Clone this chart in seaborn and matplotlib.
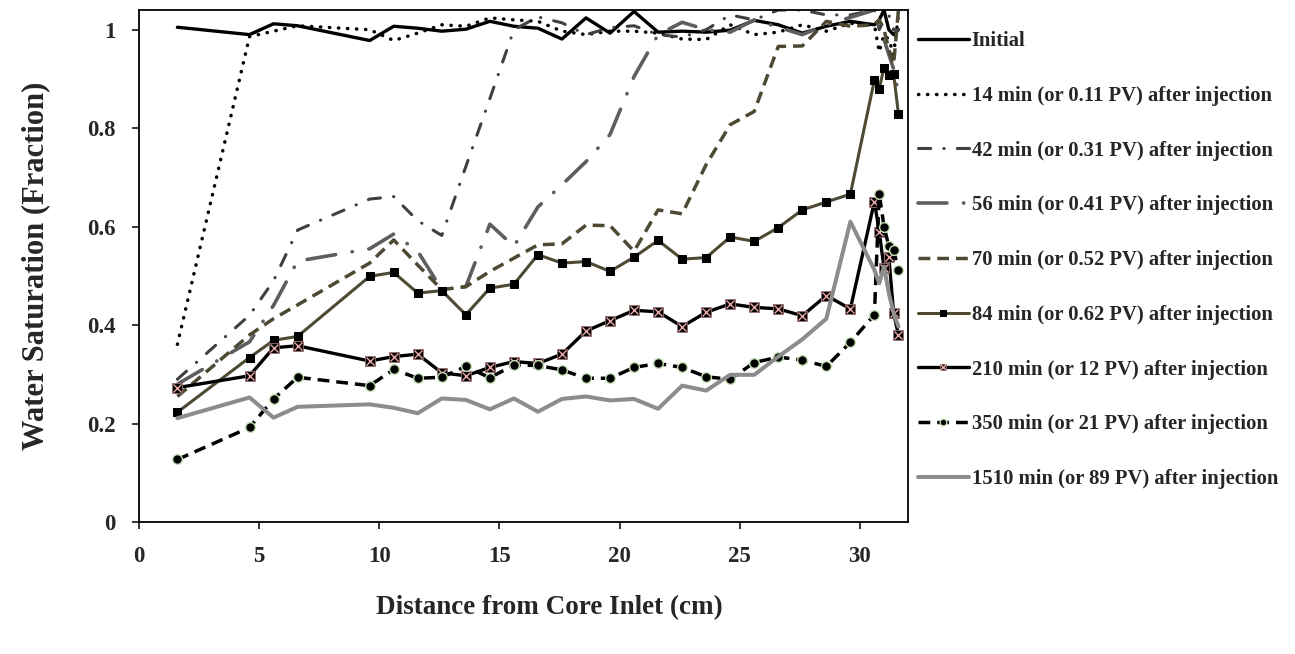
import matplotlib
matplotlib.use("Agg")
import matplotlib.pyplot as plt
import seaborn as sns
from matplotlib.legend_handler import HandlerTuple

# distance from core inlet (cm)
distance = [1.6, 4.6, 5.6, 6.6, 9.6, 10.6, 11.6, 12.6, 13.6, 14.6, 15.6,
            16.6, 17.6, 18.6, 19.6, 20.6, 21.6, 22.6, 23.6, 24.6, 25.6,
            26.6, 27.6, 28.6, 29.6, 30.6, 30.8, 31.0, 31.2, 31.4, 31.6]

sw_initial = [1.005, 0.990, 1.012, 1.008, 0.978, 1.007, 1.003, 0.997, 1.001,
              1.017, 1.007, 1.003, 0.981, 1.024, 0.993, 1.037, 0.995, 0.997,
              0.995, 0.999, 1.019, 1.010, 0.993, 1.007, 1.017, 1.010, 1.020,
              1.040, 1.000, 0.990, 1.000]
sw_14 = [0.361, 0.986, 0.997, 1.008, 1.000, 0.978, 0.993, 1.010, 1.007, 1.024,
         1.020, 1.017, 0.997, 0.990, 0.997, 0.997, 0.993, 0.981, 0.980, 1.010,
         0.990, 0.995, 1.010, 0.997, 1.013, 1.010, 0.955, 0.990, 0.980, 0.950,
         1.030]
sw_42 = [0.290, 0.420, 0.490, 0.593, 0.656, 0.661, 0.612, 0.582, 0.722, 0.860,
         1.000, 1.026, 1.014, 0.990, 1.004, 1.008, 0.990, 0.985, 1.000, 1.030,
         1.020, 1.040, 1.040, 1.030, 1.030, 1.040, 1.000, 1.020, 1.030, 1.000,
         1.000]
sw_56 = [0.280, 0.366, 0.440, 0.530, 0.555, 0.585, 0.550, 0.472, 0.478, 0.605,
         0.560, 0.640, 0.685, 0.732, 0.787, 0.905, 0.990, 1.015, 1.000, 0.995,
         1.020, 1.005, 0.990, 1.010, 1.025, 1.040, 1.000, 0.980, 0.950, 0.920,
         0.870]
sw_70 = [0.255, 0.380, 0.413, 0.441, 0.526, 0.573, 0.522, 0.472, 0.478, 0.509,
         0.536, 0.563, 0.565, 0.603, 0.602, 0.550, 0.634, 0.626, 0.726, 0.807,
         0.834, 0.966, 0.967, 1.017, 1.007, 1.010, 1.020, 1.000, 0.960, 0.930,
         1.040]
sw_84 = [0.223, 0.334, 0.369, 0.377, 0.499, 0.507, 0.465, 0.470, 0.421, 0.475,
         0.483, 0.543, 0.526, 0.529, 0.509, 0.538, 0.572, 0.534, 0.537, 0.579,
         0.570, 0.598, 0.634, 0.650, 0.666, 0.898, 0.880, 0.923, 0.909, 0.910,
         0.829]
sw_210 = [0.273, 0.297, 0.354, 0.358, 0.327, 0.336, 0.341, 0.303, 0.297, 0.314,
          0.326, 0.322, 0.341, 0.388, 0.409, 0.430, 0.427, 0.397, 0.426, 0.443,
          0.436, 0.433, 0.419, 0.460, 0.433, 0.651, 0.590, 0.516, 0.539, 0.424,
          0.380]
sw_350 = [0.127, 0.192, 0.250, 0.294, 0.277, 0.310, 0.292, 0.294, 0.316, 0.293,
          0.319, 0.318, 0.309, 0.292, 0.292, 0.314, 0.322, 0.314, 0.295, 0.290,
          0.324, 0.335, 0.329, 0.316, 0.365, 0.421, 0.667, 0.600, 0.560, 0.553,
          0.511]
sw_1510 = [0.211, 0.253, 0.212, 0.234, 0.239, 0.232, 0.221, 0.251, 0.248, 0.229,
           0.251, 0.224, 0.250, 0.255, 0.247, 0.250, 0.230, 0.277, 0.267, 0.299,
           0.299, 0.336, 0.371, 0.413, 0.610, 0.512, 0.485, 0.519, 0.465, 0.424,
           0.397]

labels = ["Initial",
          "14 min (or 0.11 PV) after injection",
          "42 min (or 0.31 PV) after injection",
          "56 min (or 0.41 PV) after injection",
          "70 min (or 0.52 PV) after injection",
          "84 min (or 0.62 PV) after injection",
          "210 min (or 12 PV) after injection",
          "350 min (or 21 PV) after injection",
          "1510 min (or 89 PV) after injection"]

sns.set_style("ticks")
plt.rcParams["font.family"] = ["Liberation Serif", "DejaVu Serif"]
plt.rcParams["font.weight"] = "bold"

OLIVE = "#4d4933"

fig = plt.figure(figsize=(12.95, 6.54), dpi=100)
ax = fig.add_axes([0.1073, 0.2018, 0.5939, 0.7829])

styles = [
    dict(color="black", lw=2.4, linestyle="-"),
    dict(color="black", lw=2.5, linestyle=(0, (0.1, 2.5)), dash_capstyle="round"),
    dict(color="#404040", lw=2.2, linestyle=(0, (4.0, 4.3, 0.1, 4.3)),
         dash_capstyle="round"),
    dict(color="#5e5e5e", lw=2.6, linestyle=(0, (8.0, 4.6, 0.1, 4.6)),
         dash_capstyle="round"),
    dict(color=OLIVE, lw=2.5, linestyle=(0, (3.4, 2.0))),
    dict(color=OLIVE, lw=2.2, linestyle="-", marker="s", markersize=6,
         mfc="black", mec="black"),
    dict(color="black", lw=2.4, linestyle="-", marker="s", markersize=7,
         mfc="black", mec="#9a7070", mew=0.6),
    dict(color="black", lw=2.5, linestyle=(0, (3.4, 2.0)), marker="o",
         markersize=7, mfc="black", mec="#c5e0b4", mew=1.0),
    dict(color="#8c8c8c", lw=2.9, linestyle="-"),
]
series = [sw_initial, sw_14, sw_42, sw_56, sw_70, sw_84, sw_210, sw_350, sw_1510]

handles = []
for vals, lab, st in zip(series, labels, styles):
    sns.lineplot(x=distance, y=vals, ax=ax, label=lab, **st)
    line = ax.lines[-1]
    if lab.startswith("210"):
        # pink cross drawn over each black square
        sns.lineplot(x=distance, y=vals, ax=ax, linestyle="none", marker="x",
                     markersize=6, mec="#e8a8a8", mew=1.0, color="#e8a8a8")
        handles.append((line, ax.lines[-1]))
    else:
        handles.append(line)

ax.get_legend().remove()

ax.set_xlim(0, 32)
ax.set_ylim(0, 1.04)
ax.set_xticks([0, 5, 10, 15, 20, 25, 30])
ax.set_yticks([0, 0.2, 0.4, 0.6, 0.8, 1.0])
ax.set_yticklabels(["0", "0.2", "0.4", "0.6", "0.8", "1"])
ax.tick_params(direction="out", length=5, width=1.3, labelsize=16.5, pad=12)
for sp in ax.spines.values():
    sp.set_linewidth(1.3)
    sp.set_color("black")

ax.set_xlabel("Distance from Core Inlet (cm)", fontsize=19.5, fontweight="bold")
ax.set_ylabel("Water Saturation (Fraction)", fontsize=22, fontweight="bold")
ax.xaxis.set_label_coords(0.534, -0.142)
ax.yaxis.set_label_coords(-0.115, 0.5)

fig.legend(handles, labels, loc="upper left",
           bbox_to_anchor=(918 / 1295, 1 - 31 / 654),
           frameon=False, fontsize=14.9, handlelength=2.45, handletextpad=0.15,
           labelspacing=1.68, borderpad=0, borderaxespad=0, markerscale=0.7,
           handler_map={tuple: HandlerTuple(ndivide=1, pad=0)})

plt.savefig("out.png", dpi=100)
plt.close("all")
